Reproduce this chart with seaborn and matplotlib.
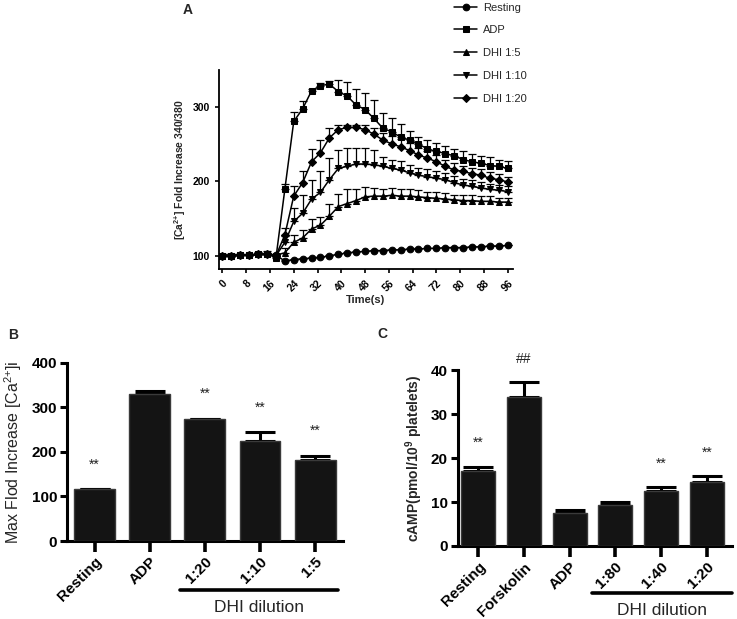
import numpy as np
import pandas as pd
import seaborn as sns
import matplotlib.pyplot as plt
import matplotlib.transforms as mtransforms

# ---- panel A data: calcium time course ----
time = [0, 3, 6, 9, 12, 15, 18, 21, 24, 27, 30, 33, 36, 39, 42, 45, 48,
        51, 54, 57, 60, 63, 66, 69, 72, 75, 78, 81, 84, 87, 90, 93, 96]

resting = [100, 100, 101, 101, 102, 102, 101, 93, 95, 96, 97, 98, 100, 102, 104, 105, 106,
           107, 107, 108, 108, 109, 109, 110, 110, 111, 111, 111, 112, 112, 113, 113, 114]
resting_err = [1, 1, 1, 1, 1, 1, 1, 1, 1, 1, 1, 1, 1, 1, 1, 1, 1,
               1, 1, 1, 1, 1, 1, 1, 1, 1, 1, 1, 1, 1, 1, 1, 1]

adp = [100, 100, 101, 101, 102, 103, 97, 189, 280, 297, 321, 328, 330, 320, 314, 302, 296,
       284, 271, 266, 259, 255, 250, 243, 240, 237, 234, 229, 226, 224, 221, 220, 217]
adp_err = [2, 2, 2, 2, 3, 3, 3, 7, 12, 10, 3, 3, 4, 15, 19, 22, 22,
           25, 20, 18, 18, 12, 9, 12, 11, 10, 9, 11, 10, 10, 11, 9, 10]

dhi5 = [100, 100, 101, 101, 102, 102, 101, 104, 118, 124, 136, 141, 153, 166, 170, 174, 179,
        180, 180, 181, 180, 180, 179, 178, 177, 176, 175, 174, 174, 173, 173, 172, 172]
dhi5_err = [2, 2, 2, 2, 2, 2, 2, 6, 10, 11, 13, 11, 16, 17, 19, 16, 13,
            11, 10, 10, 10, 9, 9, 8, 8, 8, 7, 7, 7, 7, 7, 6, 6]

dhi10 = [100, 100, 101, 101, 102, 102, 100, 118, 146, 157, 176, 185, 202, 217, 220, 223, 223,
         222, 220, 217, 215, 211, 208, 206, 204, 202, 198, 195, 193, 191, 189, 188, 186]
dhi10_err = [2, 2, 2, 2, 2, 2, 2, 8, 18, 24, 26, 28, 29, 25, 24, 22, 22,
             20, 13, 12, 12, 11, 10, 10, 9, 9, 9, 8, 8, 8, 7, 7, 7]

dhi20 = [100, 100, 101, 101, 102, 102, 100, 128, 180, 198, 226, 238, 258, 269, 272, 272, 269,
         263, 255, 250, 246, 241, 235, 231, 226, 220, 215, 213, 210, 208, 204, 202, 199]
dhi20_err = [2, 2, 2, 2, 2, 2, 2, 9, 14, 15, 17, 17, 13, 6, 3, 3, 6,
             8, 10, 10, 10, 10, 9, 9, 9, 9, 9, 8, 8, 8, 8, 8, 7]

series_names = ["Resting", "ADP", "DHI 1:5", "DHI 1:10", "DHI 1:20"]
series_vals = [resting, adp, dhi5, dhi10, dhi20]
series_errs = [resting_err, adp_err, dhi5_err, dhi10_err, dhi20_err]
series_markers = ["o", "s", "^", "v", "D"]

# ---- panel B data: max fold increase ----
b_cats = ["Resting", "ADP", "1:20", "1:10", "1:5"]
b_vals = [117, 331, 274, 225, 182]
b_errs = [0, 5, 1, 20, 10]
b_marks = ["**", "", "**", "**", "**"]

# ---- panel C data: cAMP ----
c_cats = ["Resting", "Forskolin", "ADP", "1:80", "1:40", "1:20"]
c_vals = [17.0, 34.0, 7.4, 9.3, 12.4, 14.6]
c_errs = [1.0, 3.2, 0.8, 0.7, 1.0, 1.3]
c_marks = ["**", "##", "", "", "**", "**"]

sns.set_style("ticks")
plt.rcParams["font.family"] = ["Liberation Sans", "DejaVu Sans"]
plt.rcParams["mathtext.fontset"] = "custom"
plt.rcParams["mathtext.rm"] = "Liberation Sans"
plt.rcParams["mathtext.it"] = "Liberation Sans:italic"
plt.rcParams["mathtext.bf"] = "Liberation Sans:bold"

fig = plt.figure(figsize=(7.37, 6.19), dpi=100)

# ================= panel A =================
axA = fig.add_axes([0.297, 0.565, 0.399, 0.322])
for name, vals, errs, m in zip(series_names, series_vals, series_errs, series_markers):
    axA.errorbar(time, vals, yerr=[np.zeros(len(errs)), errs], fmt="none",
                 ecolor="black", elinewidth=0.9, capsize=3, capthick=0.9, zorder=2)
    sns.lineplot(x=time, y=vals, marker=m, color="black", label=name, ax=axA,
                 markersize=4.8 if m != "D" else 4.0, markeredgecolor="black",
                 linewidth=1.1, zorder=3)

axA.set_xlim(-1.2, 97.8)
axA.set_ylim(82, 349)
axA.set_xticks([0, 8, 16, 24, 32, 40, 48, 56, 64, 72, 80, 88, 96])
axA.set_yticks([100, 200, 300])
for s in ["top", "right"]:
    axA.spines[s].set_visible(False)
for s in ["left", "bottom"]:
    axA.spines[s].set_linewidth(1.3)
    axA.spines[s].set_color("black")
axA.tick_params(axis="both", labelsize=7.5, width=1.2, length=3, colors="black")
plt.setp(axA.get_xticklabels(), rotation=45, ha="right", rotation_mode="anchor", fontweight="bold")
plt.setp(axA.get_yticklabels(), fontweight="bold")
axA.set_xlabel("Time(s)", fontsize=8, fontweight="bold", labelpad=1)
axA.set_ylabel("[Ca$^{\\mathbf{2{+}}}$] Fold Increase 340/380", fontsize=7.5, fontweight="bold", labelpad=3)

h, l = axA.get_legend_handles_labels()
axA.get_legend().remove()
fig.legend(h, l, loc="upper left", bbox_to_anchor=(0.603, 1.012), frameon=False,
           fontsize=8, labelspacing=1.15, handlelength=2.0, handletextpad=0.6)
fig.text(183 / 737, 1 - 10 / 619, "A", fontsize=10, fontweight="bold", va="center")


def bar_panel(ax, cats, vals, errs, marks, ymax, step, offset):
    sns.barplot(x=cats, y=vals, color="#141414", width=0.74, errorbar=None,
                edgecolor="#3a3a3a", linewidth=1, saturation=1, ax=ax, zorder=3)
    ax.errorbar(range(len(cats)), vals, yerr=[np.zeros(len(errs)), errs], fmt="none",
                ecolor="black", elinewidth=2.2, capsize=11, capthick=2.2, zorder=2)
    for i, (v, e, mk) in enumerate(zip(vals, errs, marks)):
        if mk:
            ax.text(i, v + e + offset, mk, ha="center", va="center", fontsize=10, color="#222")
    ax.set_ylim(0, ymax)
    ax.set_yticks(np.arange(0, ymax + 1, step))
    for s in ["top", "right"]:
        ax.spines[s].set_visible(False)
    for s in ["left", "bottom"]:
        ax.spines[s].set_linewidth(2.2)
        ax.spines[s].set_color("black")
    ax.tick_params(axis="y", labelsize=11, width=2.2, length=5, colors="black", pad=2)
    ax.tick_params(axis="x", labelsize=11, width=2.6, length=8, colors="black", pad=2)
    plt.setp(ax.get_xticklabels(), rotation=45, ha="right", rotation_mode="anchor", fontweight="bold")
    plt.setp(ax.get_yticklabels(), fontweight="bold")
    ax.set_xlabel("")


def group_line(ax, x0, x1, yl, yt, text):
    tr = mtransforms.blended_transform_factory(ax.transData, ax.transAxes)
    ax.plot([x0, x1], [yl, yl], color="black", linewidth=2.6, transform=tr, clip_on=False)
    ax.text((x0 + x1) / 2, yt, text, ha="center", va="center", fontsize=12.5, transform=tr)


# ================= panel B =================
axB = fig.add_axes([0.091, 0.126, 0.374, 0.2876])
bar_panel(axB, b_cats, b_vals, b_errs, b_marks, 400, 100, 55)
axB.set_xlim(-0.5, 4.5)
axB.set_ylabel("Max Flod Increase [Ca$^{2{+}}$]i", fontsize=11.5, labelpad=6)
group_line(axB, 1.55, 4.41, -0.275, -0.375, "DHI dilution")
fig.text(8 / 737, 1 - 335 / 619, "B", fontsize=10, fontweight="bold", va="center")

# ================= panel C =================
axC = fig.add_axes([0.621, 0.118, 0.372, 0.284])
bar_panel(axC, c_cats, c_vals, c_errs, c_marks, 40, 10, 5.4)
axC.set_xlim(-0.45, 5.55)
axC.set_ylabel("cAMP(pmol/10$^{\\mathbf{9}}$ platelets)", fontsize=10, fontweight="bold", labelpad=4)
group_line(axC, 2.48, 5.55, -0.267, -0.365, "DHI dilution")
fig.text(377 / 737, 1 - 334 / 619, "C", fontsize=10, fontweight="bold", va="center")

fig.savefig("out.png", dpi=100)
